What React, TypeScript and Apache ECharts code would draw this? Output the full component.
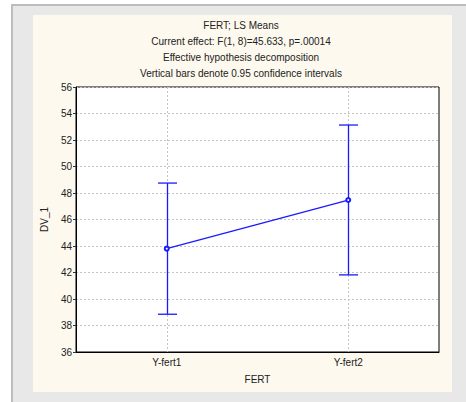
import React, { useEffect, useRef } from "react";
import * as echarts from "echarts";

const categories = ["Y-fert1", "Y-fert2"];
const means = [43.8, 47.47];
const lower = [38.85, 41.82];
const upper = [48.75, 53.13];
const titleLines = [
  "FERT; LS Means",
  "Current effect: F(1, 8)=45.633, p=.00014",
  "Effective hypothesis decomposition",
  "Vertical bars denote 0.95 confidence intervals",
];

const FONT = "'Liberation Sans', Arial, sans-serif";
const BLUE = "#1a1aff";

export default function App() {
  const ref = useRef<HTMLDivElement>(null);
  useEffect(() => {
    if (!ref.current) return;
    const chart = echarts.init(ref.current, undefined, { renderer: "svg" });
    const errData = categories.map((c, i) => [i, lower[i], upper[i]]);
    chart.setOption({
      animation: false,
      backgroundColor: "#ffffff",
      graphic: [
        { type: "rect", z: -10, shape: { x: 11, y: 4, width: 455, height: 398 }, style: { fill: "#bdbdbd" } },
        { type: "rect", z: -9, shape: { x: 13, y: 6, width: 453, height: 396 }, style: { fill: "#e8e8e8" } },
        { type: "rect", z: -8, shape: { x: 33, y: 15, width: 419, height: 377 }, style: { fill: "#fdf9ee" } },
      ],
      title: {
        text: titleLines.join("\n"),
        left: 241,
        top: 17,
        padding: 0,
        textAlign: "center",
        textStyle: { fontFamily: FONT, fontSize: 10, fontWeight: "normal", color: "#222", lineHeight: 16 },
      },
      grid: {
        left: 76,
        top: 87,
        right: 27,
        bottom: 50,
        show: true,
        backgroundColor: "#ffffff",
        borderColor: "#000",
        borderWidth: 1,
      },
      xAxis: {
        type: "category",
        data: categories,
        boundaryGap: true,
        name: "FERT",
        nameLocation: "middle",
        nameGap: 22,
        nameTextStyle: { fontFamily: FONT, fontSize: 10, color: "#222" },
        axisLine: { lineStyle: { color: "#000" } },
        axisTick: { alignWithLabel: true, length: 3, lineStyle: { color: "#000" } },
        axisLabel: { fontFamily: FONT, fontSize: 10, color: "#222", margin: 5 },
        splitLine: { show: false },
      },
      yAxis: {
        type: "value",
        min: 36,
        max: 56,
        interval: 2,
        name: "DV_1",
        nameLocation: "middle",
        nameGap: 26,
        nameTextStyle: { fontFamily: FONT, fontSize: 10, color: "#222" },
        axisLine: { show: true, lineStyle: { color: "#000" } },
        axisTick: { show: true, length: 3, lineStyle: { color: "#333" } },
        axisLabel: { fontFamily: FONT, fontSize: 10, color: "#222", margin: 4 },
        splitLine: { show: true, lineStyle: { color: "#c4c4c4", type: [2, 2] } },
      },
      series: [
        {
          type: "custom",
          z: 2,
          data: errData,
          encode: { x: 0, y: [1, 2] },
          renderItem: (params: any, api: any) => {
            const x = api.value(0);
            const lo = api.coord([x, api.value(1)]);
            const hi = api.coord([x, api.value(2)]);
            const cs = params.coordSys;
            const hw = 9.5;
            const st = { stroke: BLUE, lineWidth: 1.3 };
            const gx = Math.round(lo[0]) + 0.5;
            return {
              type: "group",
              children: [
                {
                  type: "line",
                  shape: { x1: gx, y1: cs.y, x2: gx, y2: cs.y + cs.height },
                  style: { stroke: "#c4c4c4", lineWidth: 1, lineDash: [2, 2] },
                },
                { type: "line", shape: { x1: gx, y1: lo[1], x2: gx, y2: hi[1] }, style: st },
                { type: "line", shape: { x1: gx - hw, y1: lo[1], x2: gx + hw, y2: lo[1] }, style: st },
                { type: "line", shape: { x1: gx - hw, y1: hi[1], x2: gx + hw, y2: hi[1] }, style: st },
              ],
            };
          },
        },
        {
          type: "line",
          z: 3,
          data: means,
          symbol: "emptyCircle",
          symbolSize: 4,
          lineStyle: { color: BLUE, width: 1.3 },
          itemStyle: { color: BLUE, borderWidth: 1 },
        },
      ],
    });
    return () => chart.dispose();
  }, []);
  return <div ref={ref} style={{ width: 466, height: 402, position: "absolute", left: 0, top: 0 }} />;
}
